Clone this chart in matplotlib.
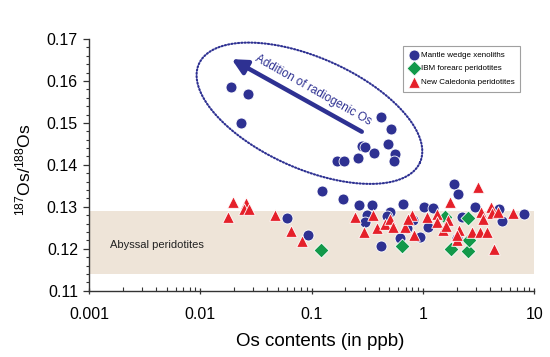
import numpy as np
import matplotlib
matplotlib.use("Agg")
import matplotlib.pyplot as plt
from matplotlib.ticker import MultipleLocator, FixedLocator, FixedFormatter, LogLocator, NullFormatter

plt.rcParams['font.family'] = ['Liberation Sans', 'DejaVu Sans']
plt.rcParams['mathtext.fontset'] = 'custom'
plt.rcParams['mathtext.rm'] = 'Liberation Sans'
plt.rcParams['mathtext.it'] = 'Liberation Sans:italic'
plt.rcParams['mathtext.bf'] = 'Liberation Sans:bold'

# ---- data ----
mantle_x = [0.0187, 0.027, 0.0231, 0.418, 0.517, 0.282, 0.302, 0.489, 0.366, 0.561, 0.550, 0.259, 0.170, 0.195,
            0.123, 0.193, 0.268, 0.349, 0.667, 0.0597, 0.0923, 0.313, 0.302, 0.506, 0.473, 0.421, 0.622, 0.72,
            1.91, 2.08, 1.03, 1.22, 2.94, 4.86, 8.15, 5.1, 2.23, 1.12, 0.94, 0.82, 2.01]
mantle_y = [0.1586, 0.1568, 0.1499, 0.1515, 0.1485, 0.1445, 0.1442, 0.1450, 0.1429, 0.1426, 0.1410, 0.1417, 0.1410, 0.1410,
            0.1338, 0.1318, 0.1304, 0.1304, 0.1306, 0.1273, 0.1233, 0.1280, 0.1264, 0.1288, 0.1278, 0.1207, 0.1226, 0.1249,
            0.1354, 0.1331, 0.1300, 0.1296, 0.1300, 0.1294, 0.1283, 0.1266, 0.1276, 0.1253, 0.1229, 0.1269, 0.1225]

ibm_x = [0.1215, 0.644, 1.79, 2.56, 2.52, 2.6, 1.58]
ibm_y = [0.1197, 0.1207, 0.1199, 0.1195, 0.1273, 0.1221, 0.1276]

nc_x = [0.0198, 0.0179, 0.0258, 0.0247, 0.0276, 0.0469, 0.0649, 0.0826, 0.245, 0.296, 0.358, 0.389, 0.457, 0.506,
        0.535, 0.69, 0.792, 0.838, 1.08, 1.33, 1.33, 1.75, 1.69, 1.52, 1.60, 2.01, 2.12, 2.74, 3.15, 3.33, 3.49,
        3.26, 3.74, 4.09, 4.2, 4.76, 4.3, 6.49, 2.01, 0.74]
nc_y = [0.1312, 0.1275, 0.1308, 0.1294, 0.1294, 0.1280, 0.1243, 0.1219, 0.1276, 0.1241, 0.1280, 0.1249, 0.1259, 0.1270,
        0.1253, 0.1253, 0.1280, 0.1233, 0.1276, 0.1284, 0.1264, 0.1312, 0.1269, 0.1245, 0.1255, 0.1221, 0.1245, 0.1241,
        0.1348, 0.1288, 0.1270, 0.1241, 0.1241, 0.1300, 0.1285, 0.1288, 0.1199, 0.1285, 0.1233, 0.1270]

abyssal_y = (0.114, 0.129)
xticks = [0.001, 0.01, 0.1, 1, 10]
xtick_labels = ['0.001', '0.01', '0.1', '1', '10']
yticks = [0.11, 0.12, 0.13, 0.14, 0.15, 0.16, 0.17]
ytick_labels = ['0.11', '0.12', '0.13', '0.14', '0.15', '0.16', '0.17']

navy = '#2e3192'
green = '#12994a'
red = '#e5202a'

fig = plt.figure(figsize=(5.5, 3.57), dpi=100)
ax = fig.add_axes([0.1618, 0.1857, 0.8097, 0.7051])
ax.set_xscale('log')
ax.set_xlim(0.001, 10)
ax.set_ylim(0.11, 0.17)

ax.axhspan(abyssal_y[0], abyssal_y[1], xmin=0, xmax=1, color='#eee4d8', lw=0, zorder=0)
ax.text(0.00155, 0.1209, 'Abyssal peridotites', fontsize=8, color='#222222', va='center', ha='left')

ax.scatter(mantle_x, mantle_y, s=62, marker='o', color=navy, edgecolor='white', linewidth=0.6, zorder=3,
           label='Mantle wedge xenoliths')
ax.scatter(ibm_x, ibm_y, s=58, marker='D', color=green, edgecolor='white', linewidth=0.6, zorder=4,
           label='IBM forearc peridotites')
ax.scatter(nc_x, nc_y, s=70, marker='^', color=red, edgecolor='white', linewidth=0.6, zorder=5,
           label='New Caledonia peridotites')

# dotted ellipse (in log10(x), y space)
uc, yc = -1.02, 0.1523
a_px, b_px, th = 121.0, 55.5, np.deg2rad(24.0)
t = np.linspace(0, 2 * np.pi, 400)
dx = a_px * np.cos(t) * np.cos(th) - b_px * np.sin(t) * np.sin(th)
dy = a_px * np.cos(t) * np.sin(th) + b_px * np.sin(t) * np.cos(th)
ex = 10 ** (uc + dx / 111.3)
ey = yc - dy / 4195.0
ax.plot(ex, ey, color=navy, lw=1.5, ls=(0, (0.6, 1.0)), dash_capstyle='round', zorder=2)

# arrow
ax.annotate('', xy=(0.0191, 0.1652), xytext=(0.282, 0.1479),
            arrowprops=dict(arrowstyle='-|>,head_length=0.9,head_width=0.45', color=navy, lw=3.2,
                            shrinkA=0, shrinkB=0), zorder=3)
ax.text(0.104, 0.1578, 'Addition of radiogenic Os', fontsize=8.5, color=navy, rotation=-29.5,
        rotation_mode='anchor', ha='center', va='center')

# axes styling
for s in ['top', 'right']:
    ax.spines[s].set_visible(False)
for s in ['left', 'bottom']:
    ax.spines[s].set_color('#333333')
    ax.spines[s].set_linewidth(1.0)

ax.yaxis.set_major_locator(FixedLocator(yticks))
ax.yaxis.set_major_formatter(FixedFormatter(ytick_labels))
ax.yaxis.set_minor_locator(MultipleLocator(0.002))
ax.xaxis.set_major_locator(FixedLocator(xticks))
ax.xaxis.set_major_formatter(FixedFormatter(xtick_labels))
ax.xaxis.set_minor_locator(LogLocator(base=10, subs=np.arange(2, 10), numticks=20))
ax.xaxis.set_minor_formatter(NullFormatter())

ax.tick_params(axis='y', which='major', direction='out', length=4, width=0.9, color='#333333',
               labelsize=11.5, pad=4)
ax.tick_params(axis='y', which='minor', direction='out', length=2.5, width=0.8, color='#333333')
ax.tick_params(axis='x', which='major', direction='inout', length=5, width=0.9, color='#333333',
               labelsize=11.5, pad=9)
ax.tick_params(axis='x', which='minor', direction='in', length=3, width=0.8, color='#333333')

ax.set_xlabel('Os contents (in ppb)', fontsize=13.5)
ax.xaxis.set_label_coords(0.519, -0.17)
ax.set_ylabel(r'$^{187}$Os/$^{188}$Os', fontsize=12.5)
ax.yaxis.set_label_coords(-0.125, 0.48)

leg = ax.legend(loc='upper right', bbox_to_anchor=(0.978, 0.99), fontsize=5.8, frameon=True, fancybox=False,
                edgecolor='#888888', borderpad=0.7, handletextpad=0.3, labelspacing=0.75, handlelength=1.2,
                markerscale=1.0)
leg.get_frame().set_linewidth(0.8)

fig.savefig('out.png', dpi=100)
